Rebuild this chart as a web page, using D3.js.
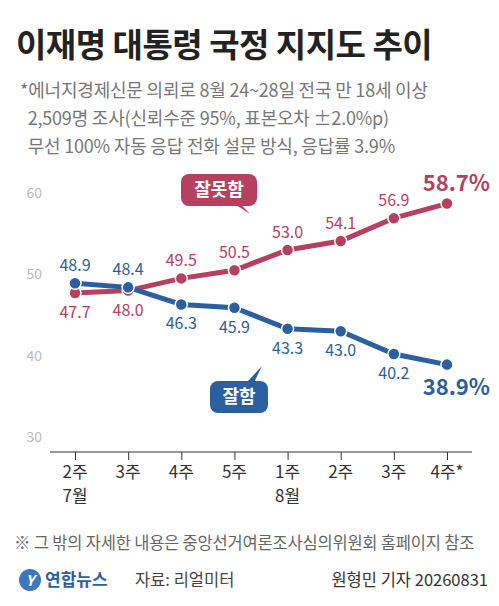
<!DOCTYPE html><html><head><meta charset="utf-8">
<script src="https://cdn.jsdelivr.net/npm/d3@7"></script>
<style>body{margin:0;background:#fff}text{font-family:"Noto Sans CJK KR","Noto Sans",sans-serif}</style></head><body>
<svg id="c" width="499" height="606"></svg>
<script>
const weeks=["2주","3주","4주","5주","1주","2주","3주","4주*"];
const months=["7월","","","","8월","","",""];
const bad=[47.7,48.0,49.5,50.5,53.0,54.1,56.9,58.7];
const good=[48.9,48.4,46.3,45.9,43.3,43.0,40.2,38.9];
const yTicks=[30,40,50,60];
const red="#b8405f",blue="#2b5f9f";
const svg=d3.select("#c");
svg.append("text").attr("x",16).attr("y",57).attr("font-size",33).attr("font-weight",700).attr("fill","#222").attr("letter-spacing",-0.5).text("이재명 대통령 국정 지지도 추이");
["*에너지경제신문 의뢰로 8월 24~28일 전국 만 18세 이상","  2,509명 조사(신뢰수준 95%, 표본오차 ±2.0%p)","  무선 100% 자동 응답 전화 설문 방식, 응답률 3.9%"].forEach((t,i)=>
 svg.append("text").attr("x",20).attr("y",97+i*28).attr("font-size",18).attr("fill","#777").attr("letter-spacing",-0.2).attr("xml:space","preserve").text(t));
const x=d3.scalePoint().domain(d3.range(8)).range([75,447]);
const y=d3.scaleLinear().domain([30,60]).range([437,193]);
const ya=svg.append("g").attr("transform","translate(50,0)").call(d3.axisLeft(y).tickValues(yTicks).tickSize(0).tickPadding(8));
ya.select(".domain").remove();ya.selectAll("text").attr("font-size",14).attr("fill","#bbb").attr("font-family","Noto Sans");
const xa=svg.append("g").attr("transform","translate(0,452)").call(d3.axisBottom(x).tickSize(8).tickFormat(""));
xa.select(".domain").attr("stroke","#333").attr("d","M50,0H472");xa.selectAll(".tick line").attr("stroke","#333").attr("y1",0).attr("y2",8);
weeks.forEach((w,i)=>{svg.append("text").attr("x",x(i)).attr("y",478).attr("text-anchor","middle").attr("font-size",17).attr("fill","#333").text(w);
 if(months[i])svg.append("text").attr("x",x(i)).attr("y",502).attr("text-anchor","middle").attr("font-size",17).attr("fill","#333").text(months[i]);});
const line=d3.line().x((d,i)=>x(i)).y(d=>y(d));
[[bad,red],[good,blue]].forEach(([d,c])=>{
 svg.append("path").attr("d",line(d)).attr("fill","none").attr("stroke",c).attr("stroke-width",5);
 svg.selectAll(null).data(d).enter().append("circle").attr("cx",(v,i)=>x(i)).attr("cy",v=>y(v)).attr("r",6).attr("fill",c).attr("stroke","#fff").attr("stroke-width",1.5);});
bad.forEach((v,i)=>{if(i==7)return;const below=i<2;
 svg.append("text").attr("x",x(i)).attr("y",y(v)+(below?25:-12)).attr("text-anchor","middle").attr("font-size",16).attr("fill",red).text(v.toFixed(1));});
good.forEach((v,i)=>{if(i==7)return;const above=i<2;
 svg.append("text").attr("x",x(i)).attr("y",y(v)+(above?-12:25)).attr("text-anchor","middle").attr("font-size",16).attr("fill",blue).text(v.toFixed(1));});
svg.append("text").attr("x",490).attr("y",y(bad[7])-13).attr("text-anchor","end").attr("font-size",22).attr("font-weight",700).attr("fill",red).text(bad[7].toFixed(1)+"%");
svg.append("text").attr("x",490).attr("y",y(good[7])+30).attr("text-anchor","end").attr("font-size",22).attr("font-weight",700).attr("fill",blue).text(good[7].toFixed(1)+"%");
function callout(cx,cy,w,t,c,tipx,tipy){
 svg.append("path").attr("d",`M${cx-6},${cy}L${tipx},${tipy}L${cx+8},${cy}Z`).attr("fill",c);
 svg.append("rect").attr("x",cx-w/2).attr("y",cy-16).attr("width",w).attr("height",32).attr("rx",8).attr("fill",c);
 svg.append("text").attr("x",cx).attr("y",cy+6).attr("text-anchor","middle").attr("font-size",18).attr("font-weight",700).attr("fill","#fff").text(t);}
callout(219,190,76,"잘못함",red,250,214);
callout(239,397,58,"잘함",blue,262,366);
svg.append("text").attr("x",14).attr("y",549).attr("font-size",16.5).attr("fill","#666").attr("letter-spacing",-0.2).text("※ 그 밖의 자세한 내용은 중앙선거여론조사심의위원회 홈페이지 참조");
svg.append("circle").attr("cx",30).attr("cy",580).attr("r",11).attr("fill","#3c78c2");
svg.append("text").attr("x",30).attr("y",586).attr("text-anchor","middle").attr("font-size",15).attr("font-style","italic").attr("font-weight",700).attr("fill","#fff").text("Y");
svg.append("text").attr("x",45).attr("y",586).attr("font-size",17).attr("font-weight",700).attr("fill","#2b5f9f").text("연합뉴스");
svg.append("text").attr("x",135).attr("y",586).attr("font-size",16.5).attr("fill","#444").text("자료: 리얼미터");
svg.append("text").attr("x",488).attr("y",586).attr("text-anchor","end").attr("font-size",16.5).attr("fill","#333").text("원형민 기자 20260831");
</script></body></html>
